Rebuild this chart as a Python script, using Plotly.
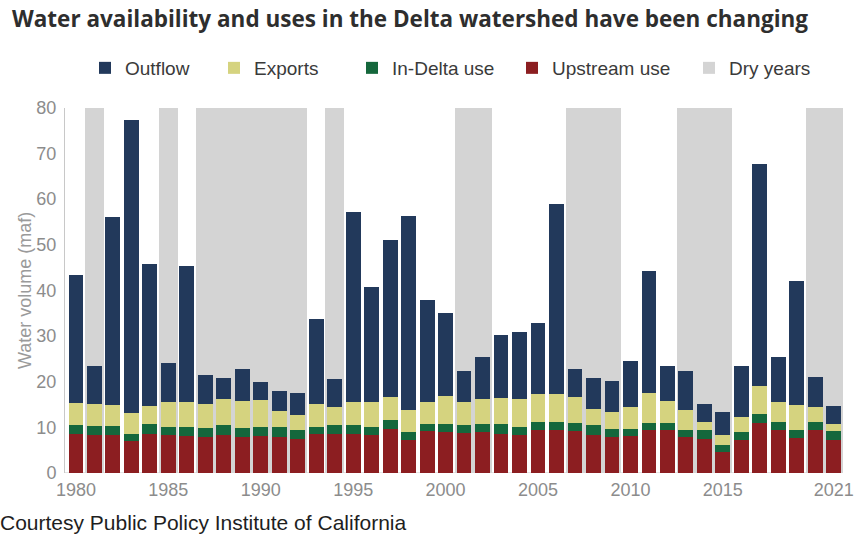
import numpy as np
import plotly.graph_objects as go

# Water year, 1980-2021
years = list(range(1980, 2022))

# Volumes in million acre-feet (maf)
upstream_use = [8.7, 8.4, 8.3, 7.1, 8.7, 8.3, 8.1, 7.9, 8.3, 7.9,
                8.2, 7.9, 7.6, 8.5, 8.5, 8.5, 8.4, 9.8, 7.2, 9.2,
                9.0, 8.8, 9.0, 8.7, 8.4, 9.4, 9.4, 9.2, 8.3, 7.9,
                8.1, 9.4, 9.4, 7.9, 7.6, 4.7, 7.2, 11.0, 9.4, 7.7,
                9.4, 7.2]
in_delta_use = [1.9, 1.9, 2.0, 1.6, 2.1, 1.8, 2.0, 2.0, 2.3, 2.0,
                1.9, 2.2, 1.9, 1.6, 2.0, 2.0, 1.7, 1.8, 1.8, 1.6,
                1.8, 1.7, 1.8, 2.1, 1.7, 1.8, 1.8, 1.8, 2.2, 1.9,
                1.7, 1.6, 1.6, 1.6, 1.8, 1.6, 1.8, 2.0, 1.8, 1.8,
                1.8, 2.0]
exports = [4.8, 4.9, 4.7, 4.5, 4.0, 5.6, 5.5, 5.3, 5.7, 6.0,
           6.0, 3.5, 3.2, 5.1, 4.1, 5.1, 5.5, 5.2, 4.8, 4.9,
           6.2, 5.1, 5.5, 5.6, 6.1, 6.2, 6.2, 5.8, 3.6, 3.6,
           4.7, 6.6, 4.9, 4.3, 1.8, 2.0, 3.3, 6.2, 4.4, 5.5,
           3.4, 1.6]
outflow = [28.0, 8.2, 41.1, 64.2, 31.0, 8.5, 29.7, 6.3, 4.6, 7.0,
           4.0, 4.5, 4.9, 18.7, 6.1, 41.7, 25.3, 34.2, 42.5, 22.3,
           18.1, 6.7, 9.1, 13.9, 14.7, 15.5, 41.5, 6.1, 6.8, 6.9,
           10.0, 26.7, 7.7, 8.5, 4.0, 5.1, 11.1, 48.6, 9.8, 27.1,
           6.6, 4.0]

dry_years = [1981, 1985, 1987, 1988, 1989, 1990, 1991, 1992, 1994,
             2001, 2002, 2007, 2008, 2009, 2013, 2014, 2015, 2020, 2021]

y_ticks = [0, 10, 20, 30, 40, 50, 60, 70, 80]
x_ticks = [1980, 1985, 1990, 1995, 2000, 2005, 2010, 2015, 2021]

W, H = 865, 540
FONT = "Liberation Sans, Arial, sans-serif"

colors = {
    "Outflow": "#22395b",
    "Exports": "#d5d37f",
    "In-Delta use": "#15673c",
    "Upstream use": "#8c1e21",
    "Dry years": "#d4d4d4",
}

fig = go.Figure()

# Dry-year shading: full-width bars reaching the top of the value axis
fig.add_trace(go.Bar(
    x=dry_years, y=[max(y_ticks)] * len(dry_years), width=1.0,
    name="Dry years", marker=dict(color=colors["Dry years"], line_width=0),
    legend="legend5", hoverinfo="skip",
))

# Stacked components, bottom to top
stack = [
    ("Upstream use", upstream_use, "legend4"),
    ("In-Delta use", in_delta_use, "legend3"),
    ("Exports", exports, "legend2"),
    ("Outflow", outflow, "legend"),
]
base = np.zeros(len(years))
for name, vals, leg in stack:
    vals = np.asarray(vals, dtype=float)
    fig.add_trace(go.Bar(
        x=years, y=vals, base=base.copy(), width=0.8, name=name,
        marker=dict(color=colors[name], line_width=0), legend=leg,
    ))
    base = base + vals

# One legend box per entry so each sits at its own spot in the row
legend_x = {"legend": 85, "legend2": 214, "legend3": 352, "legend4": 512, "legend5": 689}
legend_style = dict(
    orientation="h", xref="container", yref="container",
    yanchor="middle", xanchor="left", y=1 - 68 / H,
    bgcolor="rgba(0,0,0,0)", borderwidth=0,
    font=dict(family=FONT, size=19, color="#3a3a3a"),
    itemclick=False, itemdoubleclick=False,
)
legends = {k: dict(legend_style, x=v / W) for k, v in legend_x.items()}

fig.update_layout(
    width=W, height=H,
    margin=dict(l=65, r=11, t=107, b=67),
    paper_bgcolor="white", plot_bgcolor="white",
    barmode="overlay", bargap=0,
    showlegend=True,
    title=dict(
        text="<b>Water availability and uses in the Delta watershed have been changing</b>",
        x=12 / W, xanchor="left", xref="container",
        y=1 - 19 / H, yanchor="middle", yref="container",
        font=dict(family="Open Sans, Liberation Sans, sans-serif", size=22.5, color="#2e2e2e"),
    ),
    xaxis=dict(
        range=[1979.41, 2021.5], tickvals=x_ticks, ticktext=[str(t) for t in x_ticks],
        showgrid=False, zeroline=False, showline=False, ticks="",
        tickfont=dict(family=FONT, size=18, color="#8c8c8c"),
        ticklabelstandoff=4,
    ),
    yaxis=dict(
        range=[0, 80], tickvals=y_ticks, showgrid=False, zeroline=False,
        showline=True, linecolor="#c8c8c8", linewidth=1, ticks="",
        tickfont=dict(family=FONT, size=18, color="#8c8c8c"),
        ticklabelstandoff=4,
        title=dict(text="Water volume (maf)", standoff=0,
                   font=dict(family=FONT, size=18, color="#9a9a9a")),
    ),
    annotations=[dict(
        text="Courtesy Public Policy Institute of California",
        xref="paper", yref="paper", x=-3 / 789 - 65 / 789, y=-50 / 366,
        xanchor="left", yanchor="middle", showarrow=False,
        font=dict(family=FONT, size=21, color="#1e1e1e"),
    )],
    **legends,
)

# Baseline under the bars
fig.add_hline(y=0, line=dict(color="#c8c8c8", width=1), layer="below")

fig.write_html("out.html")
